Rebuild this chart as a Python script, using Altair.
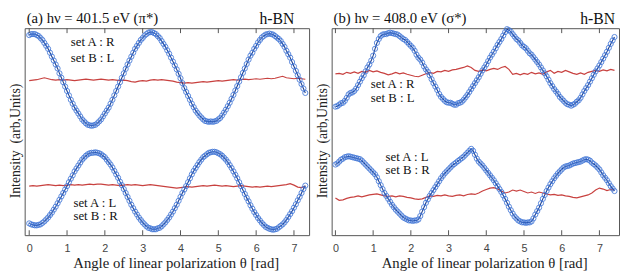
import altair as alt
import pandas as pd

# ---------------- data ----------------
# blue series sampled at 0.0, 0.1, ... ("_k") and at 0.05, 0.15, ... ("_h")
a_top_blue_k = [204, 205, 204, 201, 196, 190, 182, 174, 165, 156,
                147, 138, 130, 124, 118, 114, 112, 112, 114, 118,
                124, 130, 138, 147, 156, 165, 174, 182, 190, 196,
                201, 205, 207, 206, 203, 198, 192, 185, 177, 169,
                160, 150, 142, 134, 127, 122, 118, 116, 116, 116,
                118, 122, 128, 135, 143, 152, 161, 170, 179, 186,
                193, 199, 203, 205, 205, 203, 200, 195, 188, 181,
                172, 163, 154, 145]
a_top_blue_h = [205, 205, 203, 199, 193, 186, 178, 170, 160.5, 151.5,
                142.5, 134, 127, 121, 116, 112.5, 111.5, 112.5, 116, 121,
                127, 134, 142.5, 151.5, 160.5, 169.5, 178, 186, 193, 199,
                203.5, 206.5, 207, 205, 201, 195, 188.5, 181, 173, 164.5,
                155, 146, 138, 130.5, 124.5, 120, 116.5, 115.5, 115.5, 116.5,
                119.5, 125, 131.5, 139, 147.5, 156.5, 165.5, 174.5, 183, 190,
                196.5, 201.5, 204.5, 205.5, 204.5, 201.5, 198, 192, 184.5, 176.5,
                167.5, 158.5, 149.5]
a_bot_blue_k = [12, 10.5, 10, 11, 14, 18, 23, 29, 36, 43,
                50, 57.5, 65, 71, 77, 81, 83.5, 84, 84, 82.5,
                79.5, 74.5, 69, 62, 54.5, 47, 39, 31, 24, 18,
                13, 9, 7, 6, 7, 9, 13, 18, 24, 31,
                39, 46.5, 54, 62, 68.5, 74.5, 79.5, 82.5, 84.5, 85,
                83.5, 81, 77, 71.5, 65, 58, 50, 42, 34.5, 27,
                20.5, 15, 10.5, 7.5, 6, 6, 8, 11, 15.5, 21.5,
                28, 35.5, 43, 50.5]
a_bot_blue_h = [11, 10, 10.5, 12.5, 16, 20.5, 26, 32.5, 39.5, 46.5,
                54, 61, 68, 74, 79, 82.5, 84, 84.5, 83.5, 81,
                77, 72, 65.5, 58.5, 51, 43, 35, 27.5, 21, 15.5,
                11, 7.5, 6, 6, 7.5, 11, 15.5, 21, 27.5, 35,
                43, 50, 58, 65.5, 71.5, 77, 81, 84, 85, 84.5,
                82.5, 79, 74.5, 68.5, 61.5, 54, 46, 38, 30.5, 23.5,
                17.5, 12.5, 8.5, 6.5, 5.5, 6.5, 9.5, 13, 18.5, 24.5,
                31.5, 39, 47]
a_top_red = [157.5, 158, 158.5, 159.5, 160.5, 159.5, 158.5, 158, 158.5, 158,
             158.5, 158, 157.5, 158, 158.5, 159, 158.5, 158, 158.5, 159,
             158.5, 158, 158.5, 158, 157.5, 158, 157.5, 156.5, 156, 157,
             157.5, 157, 158, 158.5, 158, 158.5, 158, 157.5, 157, 156,
             155.5, 155, 155.5, 155, 155.5, 156, 156.5, 156, 156.5, 157,
             157.5, 157, 157.5, 158, 158.5, 158, 158.5, 159, 158.5, 159,
             159.5, 159, 159.5, 160, 159.5, 160, 161, 162, 160.5, 160,
             159.5, 160, 159.5, 159]
a_bot_red = [50, 50.5, 50, 50.5, 51, 51.5, 51, 50.5, 51, 50.5,
             51, 51.5, 51, 51.5, 51, 51.5, 52, 51.5, 52, 52,
             51.5, 51, 51.5, 51, 50.5, 51, 51.5, 51, 51.5, 51,
             50.5, 51, 51.5, 51, 50.5, 50, 49.5, 49, 48.5, 48,
             48.5, 49, 49.5, 49, 49.5, 50, 50.5, 50, 50.5, 51,
             50.5, 50, 50.5, 50, 49.5, 50, 50.5, 50, 49.5, 49,
             49.5, 49, 49.5, 50, 49.5, 50, 50.5, 51, 51.5, 52.5,
             51, 49, 48.5, 50]

b_top_blue_k = [131, 133, 135, 140, 145, 147, 153, 160, 167, 174,
                183, 196, 203, 205, 206, 206, 205, 203, 200, 197,
                193, 188, 181, 176, 169, 163, 155, 148, 141, 137,
                135, 134, 133, 135, 138, 143, 149, 155, 161, 168,
                174, 181, 187, 194, 200, 207, 209, 205, 200, 196,
                192, 188, 184, 179, 174, 168, 162, 155, 149, 144,
                139, 135, 133, 133, 136, 140, 147, 153, 160, 167,
                173, 180, 187, 195, 202]
b_top_blue_h = [131.5, 134.5, 137, 143.5, 145.5, 149.5, 156.5, 163, 171, 178,
                190, 200, 204.5, 205, 206.5, 205.5, 204.5, 201.5, 199, 195,
                191, 184, 179, 172, 166.5, 159, 151.5, 144, 139, 135.5,
                135, 133, 134.5, 136, 140.5, 146, 152, 158, 164.5, 171,
                177.5, 184, 190.5, 197, 203.5, 210, 207.5, 202.5, 198.5, 193.5,
                190.5, 185.5, 181.5, 176.5, 171, 165, 158.5, 152, 146.5, 141,
                137, 133.5, 132, 134, 137.5, 143.5, 150, 156.5, 163.5, 170,
                176.5, 183.5, 191, 198.5]
b_bot_blue_k = [72, 75, 78, 80, 80, 79, 78, 76, 72, 68,
                64, 59, 51, 43, 37, 31, 26, 22, 18, 16,
                15, 15, 16, 24, 33, 40, 46, 52, 58, 63,
                67, 71, 74, 77, 80, 84, 88, 82, 75, 71,
                66, 61, 56, 50, 44, 37, 29, 22, 17, 14,
                13, 13, 14, 21, 28, 37, 45, 52, 58, 63,
                67, 70, 71, 73, 74, 75, 77, 77, 74, 71,
                67, 61, 56, 50, 45]
b_bot_blue_h = [73, 77, 79.5, 80.5, 79.5, 78.5, 77.5, 74, 70, 66,
                62, 55, 47, 40, 34, 28.5, 24, 20, 17, 15,
                14.5, 15, 19.5, 28.5, 36.5, 43, 49, 55, 60.5, 65,
                69, 72.5, 75.5, 78.5, 82, 86, 86, 78, 73, 68.5,
                63.5, 58.5, 53, 47, 40.5, 33, 25.5, 19, 15, 13,
                12.5, 13, 17, 24.5, 32.5, 41, 48.5, 55, 60.5, 65,
                69, 70.5, 72, 73.5, 74.5, 76, 77.5, 76, 72.5, 69,
                64, 58.5, 53, 47.5]
b_top_red = [164.5, 165, 164, 166, 165, 166.5, 165, 167, 166, 168,
             166.5, 167.5, 166, 165, 163.5, 164.5, 166, 164.5, 165.5, 164,
             163, 162, 161.5, 163, 164.5, 166, 165, 167, 166.5, 168,
             167, 168.5, 169, 170, 171, 172.5, 171, 168, 167, 168.5,
             167.5, 169, 170, 169, 171, 172, 169, 164, 165, 163.5,
             165, 164, 166, 164.5, 165.5, 164, 166.5, 168, 165, 167,
             166, 168, 166.5, 165, 164, 165.5, 164, 166, 167, 168,
             167, 168.5, 167.5, 169, 168]
b_bot_red = [38, 35.5, 36, 37.5, 38.5, 39, 40, 39, 40, 41,
             41.5, 42, 41, 40, 39.5, 40, 39, 40, 39.5, 38.5,
             38, 37, 36.5, 37, 38.5, 40, 39.5, 40.5, 40, 41,
             40, 39.5, 40.5, 41, 40, 41.5, 42, 41.5, 43, 45,
             46.5, 48, 48.5, 47, 45, 43, 44, 46, 45, 46,
             44.5, 43, 44, 42.5, 44, 43, 42, 41, 41.5, 40.5,
             41, 40, 39.5, 38.5, 38, 39, 40, 41, 43, 46,
             48, 47, 45.5, 46.5, 46]

a_notes_x = [1.10, 1.10, 1.17, 1.17]
a_notes_y = [197, 181, 33, 19]
a_notes_t = ["set A : R", "set B : L", "set A : L", "set B : R"]
b_notes_x = [0.94, 0.94, 1.33, 1.33]
b_notes_y = [154, 140, 80, 66]
b_notes_t = ["set A : R", "set B : L", "set A : L", "set B : R"]

tick_values = [0, 1, 2, 3, 4, 5, 6, 7]

SERIF = "Liberation Serif"
SANS = "Liberation Sans"
H = 211


def grid(n, start):
    return [round(start + 0.1 * i, 2) for i in range(n)]


def make_panel(tk, th, bk, bh, tr, br, xdom, W, title, hbn_dx, nx, ny, nt):
    nk, nh = len(tk), len(th)
    assert len(bk) == nk and len(bh) == nh and len(tr) == nk and len(br) == nk
    xk, xh = grid(nk, 0.0), grid(nh, 0.05)
    blue = pd.DataFrame({"theta": xk + xh + xk + xh, "v": tk + th + bk + bh,
                         "curve": ["top"] * (nk + nh) + ["bottom"] * (nk + nh)})
    blue = blue.sort_values(["curve", "theta"]).reset_index(drop=True)
    red = pd.DataFrame({"theta": xk + xk, "v": tr + br,
                        "curve": ["top"] * nk + ["bottom"] * nk})
    notes = pd.DataFrame({"x": nx, "y": ny, "t": nt})
    ticks = pd.DataFrame({"t": tick_values})
    heads = pd.DataFrame({"lab": [title]})
    hbn = pd.DataFrame({"lab": ["h-BN"]})

    xs = alt.Scale(domain=xdom, nice=False, zero=False)
    ys = alt.Scale(domain=[0, H], nice=False, zero=False)

    x_axis = alt.Axis(values=tick_values, grid=False, domain=False, ticks=False,
                      labelFont=SANS, labelFontSize=11, labelColor="#444",
                      labelPadding=8, labelFlush=False,
                      title="Angle of linear polarization θ [rad]",
                      titleFont=SERIF, titleFontSize=15, titleFontWeight="normal",
                      titleColor="#222", titlePadding=2, titleX=W / 2 + 9)
    y_axis = alt.Axis(labels=False, ticks=False, domain=False, grid=False,
                      title="Intensity\u00a0\u00a0(arb,Units)",
                      titleFont=SERIF, titleFontSize=14, titleFontWeight="normal",
                      titleColor="#222", titlePadding=2, titleY=H / 2 + 9)

    red_l = alt.Chart(red).mark_line(color="#c8413f", strokeWidth=1.2).encode(
        x=alt.X("theta:Q", scale=xs, axis=x_axis),
        y=alt.Y("v:Q", scale=ys, axis=y_axis),
        detail="curve:N")
    blue_l = alt.Chart(blue).mark_line(color="#1c3f8f", strokeWidth=1.1).encode(
        x=alt.X("theta:Q", scale=xs), y=alt.Y("v:Q", scale=ys), detail="curve:N")
    blue_p = alt.Chart(blue).mark_point(shape="circle", filled=False, size=28,
                                        color="#4075d6", strokeWidth=1,
                                        opacity=0.85).encode(
        x=alt.X("theta:Q", scale=xs), y=alt.Y("v:Q", scale=ys), detail="curve:N")
    tick_top = alt.Chart(ticks).mark_rule(color="#555", strokeWidth=1).encode(
        x=alt.X("t:Q", scale=xs), y=alt.value(0), y2=alt.value(5))
    tick_bot = alt.Chart(ticks).mark_rule(color="#555", strokeWidth=1).encode(
        x=alt.X("t:Q", scale=xs), y=alt.value(H), y2=alt.value(H - 5))
    ann = alt.Chart(notes).mark_text(align="left", baseline="middle", font=SERIF,
                                     fontSize=13, color="#111").encode(
        x=alt.X("x:Q", scale=xs), y=alt.Y("y:Q", scale=ys), text="t:N")
    head_t = alt.Chart(heads).mark_text(align="left", baseline="alphabetic",
                                        font=SERIF, fontSize=15, color="#111").encode(
        x=alt.value(2), y=alt.value(-5), text="lab:N")
    hbn_t = alt.Chart(hbn).mark_text(align="right", baseline="alphabetic",
                                     font=SERIF, fontSize=16, color="#111").encode(
        x=alt.value(W - hbn_dx), y=alt.value(-4), text="lab:N")

    return alt.layer(red_l, blue_l, blue_p, tick_top, tick_bot, ann,
                     head_t, hbn_t).properties(width=W, height=H)


left = make_panel(a_top_blue_k, a_top_blue_h, a_bot_blue_k, a_bot_blue_h,
                  a_top_red, a_bot_red, [-0.12, 7.40], 290,
                  "(a) hν = 401.5 eV (π*)", 15, a_notes_x, a_notes_y, a_notes_t)
right = make_panel(b_top_blue_k, b_top_blue_h, b_bot_blue_k, b_bot_blue_h,
                   b_top_red, b_bot_red, [-0.10, 7.52], 293,
                   "(b) hν = 408.0 eV (σ*)", 4, b_notes_x, b_notes_y, b_notes_t)

chart = alt.hconcat(left, right, spacing=4).properties(
    padding={"left": 0, "top": 0, "right": 0, "bottom": 0}
).configure_view(stroke="#555", strokeWidth=1).resolve_scale(
    x="independent", y="independent")

chart.save("out.html", embed_options={"renderer": "svg", "actions": False})
